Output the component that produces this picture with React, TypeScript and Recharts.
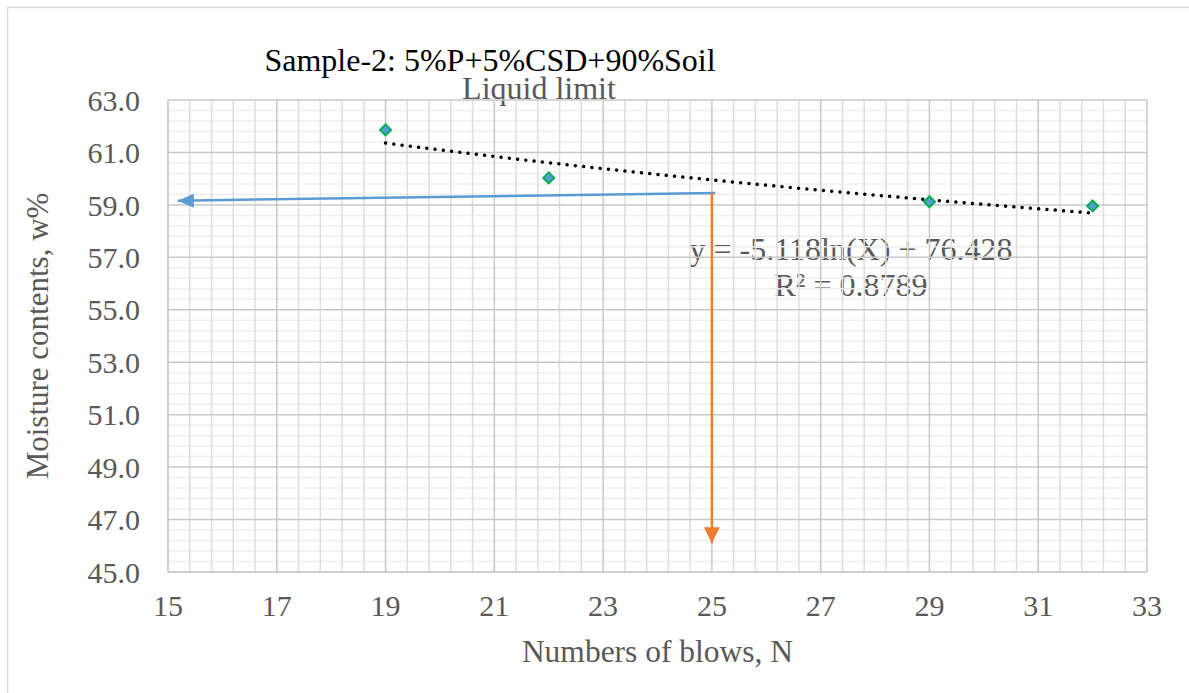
import {
  ComposedChart,
  Customized,
  Line,
  ReferenceLine,
  Scatter,
  XAxis,
  YAxis,
} from "recharts";

// Blow count test results
const blows = [19, 22, 29, 32];
const moisture = [61.86, 60.03, 59.12, 58.96];

// Logarithmic trendline y = a ln(x) + b
const fitA = -5.118;
const fitB = 76.428;
const fitStart = 19;
const fitEnd = 32;

const blueArrowX = [25.06, 15.18];
const blueArrowY = [59.45, 59.16];
const orangeArrowX = [25, 25];
const orangeArrowY = [59.45, 46.1];

const xTicks = [15, 17, 19, 21, 23, 25, 27, 29, 31, 33];
const yTicks = [45, 47, 49, 51, 53, 55, 57, 59, 61, 63];

const FONT = "'Liberation Serif', 'Times New Roman', serif";
const TEXT_GRAY = "#595959";

const points = blows.map((x, i) => ({ x, y: moisture[i] }));
const trend: { x: number; y: number }[] = [];
for (let x = fitStart; x <= fitEnd + 1e-9; x += 0.25) {
  trend.push({ x, y: fitA * Math.log(x) + fitB });
}
const blueArrow = blueArrowX.map((x, i) => ({ x, y: blueArrowY[i] }));
const orangeArrow = orangeArrowX.map((x, i) => ({ x, y: orangeArrowY[i] }));

// minor grid every 0.4, skipping the major (labelled) lines
const minorX: number[] = [];
for (let i = 1; i < 45; i++) if (i % 5 !== 0) minorX.push(+(15 + i * 0.4).toFixed(2));
const minorY: number[] = [];
for (let i = 1; i < 45; i++) if (i % 5 !== 0) minorY.push(+(45 + i * 0.4).toFixed(2));

const Diamond = (props: any) => {
  const { cx, cy } = props;
  const r = 5.5;
  return (
    <polygon
      points={`${cx},${cy - r} ${cx + r},${cy} ${cx},${cy + r} ${cx - r},${cy}`}
      fill="#5B9BD5"
      stroke="#00B050"
      strokeWidth={2}
    />
  );
};

const LeftHead = (props: any) => {
  const { cx, cy, index } = props;
  if (index !== 1) return <g key={`lh-${index}`} />;
  return (
    <polygon
      key={`lh-${index}`}
      points={`${cx},${cy} ${cx + 16},${cy - 7} ${cx + 16},${cy + 7}`}
      fill="#5B9BD5"
    />
  );
};

const DownHead = (props: any) => {
  const { cx, cy, index } = props;
  if (index !== 1) return <g key={`dh-${index}`} />;
  return (
    <polygon
      key={`dh-${index}`}
      points={`${cx},${cy} ${cx - 8},${cy - 16} ${cx + 8},${cy - 16}`}
      fill="#ED7D31"
    />
  );
};

const textStyle = (size: number, color: string) => ({
  fontFamily: FONT,
  fontSize: size,
  fill: color,
});

const Annotations = () => (
  <g>
    <path d="M7.5,693 L7.5,7.5 L1189,7.5" fill="none" stroke="#d9d9d9" strokeWidth={1.5} />
    <text x={490} y={71} textAnchor="middle" style={textStyle(32, "#000")}>
      Sample-2: 5%P+5%CSD+90%Soil
    </text>
    <text x={539} y={99} textAnchor="middle" style={textStyle(32, TEXT_GRAY)}>
      Liquid limit
    </text>
    <text x={851} y={260} textAnchor="middle" style={textStyle(32, TEXT_GRAY)}>
      y = -5.118ln(X) + 76.428
    </text>
    <text x={851} y={296} textAnchor="middle" style={textStyle(32, TEXT_GRAY)}>
      R² = 0.8789
    </text>
  </g>
);

export default function App() {
  return (
    <div style={{ position: "absolute", left: 0, top: 0, background: "#fff" }}>
      <ComposedChart
        width={1189}
        height={693}
        margin={{ top: 100, right: 42, bottom: 0, left: 0 }}
      >
        <XAxis
          type="number"
          dataKey="x"
          domain={[15, 33]}
          ticks={xTicks}
          allowDataOverflow
          height={121}
          tickLine={false}
          tickSize={0}
          tickMargin={23}
          axisLine={{ stroke: "#bfbfbf", strokeWidth: 1.5 }}
          tick={{ fill: TEXT_GRAY, fontSize: 30, fontFamily: FONT }}
          label={{
            value: "Numbers of blows, N",
            position: "insideBottom",
            offset: 31,
            fill: TEXT_GRAY,
            fontSize: 31.5,
            fontFamily: FONT,
          }}
        />
        <YAxis
          type="number"
          dataKey="y"
          domain={[45, 63]}
          ticks={yTicks}
          allowDataOverflow
          width={168}
          tickLine={false}
          tickSize={0}
          tickMargin={28}
          axisLine={{ stroke: "#bfbfbf", strokeWidth: 1.5 }}
          tickFormatter={(v) => Number(v).toFixed(1)}
          tick={{ fill: TEXT_GRAY, fontSize: 30, fontFamily: FONT }}
          label={{
            value: "Moisture contents, w%",
            angle: -90,
            position: "insideLeft",
            offset: 37,
            fill: TEXT_GRAY,
            fontSize: 31,
            fontFamily: FONT,
            style: { textAnchor: "middle" },
          }}
        />

        {minorY.map((v) => (
          <ReferenceLine key={`my-${v}`} y={v} stroke="#eeeeee" strokeWidth={1.5} />
        ))}
        {minorX.map((v) => (
          <ReferenceLine key={`mx-${v}`} x={v} stroke="#dedede" strokeWidth={1.5} />
        ))}
        {yTicks.slice(1).map((v) => (
          <ReferenceLine key={`gy-${v}`} y={v} stroke="#c8c8c8" strokeWidth={1.5} />
        ))}
        {xTicks.slice(1).map((v) => (
          <ReferenceLine key={`gx-${v}`} x={v} stroke="#c8c8c8" strokeWidth={1.5} />
        ))}

        <Line
          data={trend}
          dataKey="y"
          type="monotone"
          stroke="#000"
          strokeWidth={3.5}
          strokeDasharray="0.01 8.3"
          strokeLinecap="round"
          dot={false}
          activeDot={false}
          isAnimationActive={false}
        />
        <Line
          data={blueArrow}
          dataKey="y"
          type="linear"
          stroke="#5B9BD5"
          strokeWidth={2.5}
          dot={LeftHead}
          activeDot={false}
          isAnimationActive={false}
        />
        <Line
          data={orangeArrow}
          dataKey="y"
          type="linear"
          stroke="#ED7D31"
          strokeWidth={2.5}
          dot={DownHead}
          activeDot={false}
          isAnimationActive={false}
        />
        <Scatter data={points} dataKey="y" shape={Diamond} isAnimationActive={false} />
        <Customized component={Annotations} />
      </ComposedChart>
    </div>
  );
}
